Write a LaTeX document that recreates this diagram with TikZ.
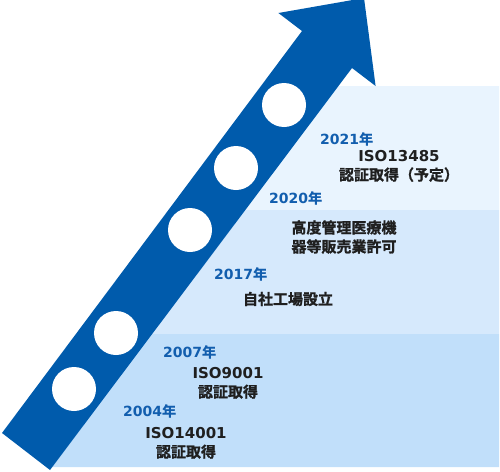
\documentclass[tikz,border=0pt]{standalone}
\usepackage{fontspec}
\setmainfont{Noto Sans CJK JP}[BoldFont={Noto Sans CJK JP Bold},BoldFeatures={FakeBold=1.2}]
\newfontfamily\lat{DejaVu Sans}
\definecolor{arrowblue}{RGB}{0,91,172}
\definecolor{yearblue}{RGB}{18,94,174}
\definecolor{bandA}{RGB}{233,244,254}
\definecolor{bandB}{RGB}{214,233,252}
\definecolor{bandC}{RGB}{193,223,250}
\tikzset{
  yeartext/.style={inner sep=0pt, anchor=west, text=yearblue, font=\fontsize{14}{17}\selectfont\bfseries},
  desctext/.style={inner sep=0pt, anchor=center, text=black!88, font=\fontsize{15}{19}\selectfont\bfseries, align=center},
  dot/.style={circle, fill=white, minimum size=44pt, inner sep=0pt},
}
\begin{document}
\begin{tikzpicture}[x=1pt,y=-1pt]
\useasboundingbox (0,0) rectangle (500,471);
% bands (left side follows the right edge of the arrow shaft)
\fill[bandA] (330,86) -- (499,86) -- (499,210) -- (245,210) -- cycle;
\fill[bandB] (245,210) -- (499,210) -- (499,334) -- (151,334) -- cycle;
\fill[bandC] (151,334) -- (499,334) -- (499,467) -- (50,467) -- cycle;
% arrow
\fill[arrowblue] (2,433) -- (302,31) -- (278.4,13) -- (364,-2) -- (375.6,86) -- (352,68) -- (50,470) -- cycle;
% circles
\node[dot] (c1) at (284,105) {};
\node[dot] (c2) at (236,168) {};
\node[dot] (c3) at (190,230) {};
\node[dot] (c4) at (116,333) {};
\node[dot] (c5) at (74,389) {};
% texts
\node[yeartext] (y2021) at (320,139) {{\lat 2021}年};
\node[desctext] (d2021) at (399,166) {{\lat ISO13485}\\認証取得（予定）};
\node[yeartext] (y2020) at (269,198) {{\lat 2020}年};
\node[desctext] (d2020) at (344,237) {高度管理医療機\\器等販売業許可};
\node[yeartext] (y2017) at (214,274) {{\lat 2017}年};
\node[desctext] (d2017) at (288,299) {自社工場設立};
\node[yeartext] (y2007) at (163,352) {{\lat 2007}年};
\node[desctext] (d2007) at (228,383) {{\lat ISO9001}\\認証取得};
\node[yeartext] (y2004) at (123,411) {{\lat 2004}年};
\node[desctext] (d2004) at (186,443) {{\lat ISO14001}\\認証取得};
\end{tikzpicture}
\end{document}
